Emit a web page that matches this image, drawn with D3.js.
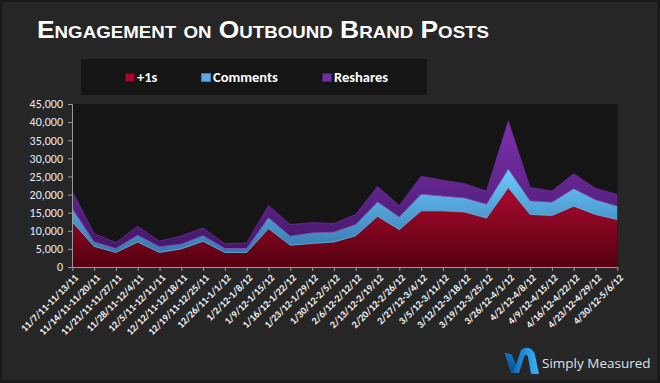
<!DOCTYPE html>
<html><head><meta charset="utf-8">
<script src="https://cdn.jsdelivr.net/npm/d3@7"></script>
<style>html,body{margin:0;padding:0;background:#1a1a1a;}svg{display:block;}</style>
</head><body>
<script>
const categories = ["11/7/11-11/13/11","11/14/11-11/20/11","11/21/11-11/27/11","11/28/11-12/4/11","12/5/11-12/11/11","12/12/11-12/18/11","12/19/11-12/25/11","12/26/11-1/1/12","1/2/12-1/8/12","1/9/12-1/15/12","1/16/12-1/22/12","1/23/12-1/29/12","1/30/12-2/5/12","2/6/12-2/12/12","2/13/12-2/19/12","2/20/12-2/26/12","2/27/12-3/4/12","3/5/12-3/11/12","3/12/12-3/18/12","3/19/12-3/25/12","3/26/12-4/1/12","4/2/12-4/8/12","4/9/12-4/15/12","4/16/12-4/22/12","4/23/12-4/29/12","4/30/12-5/6/12"];
const plusOnes = [12400,5700,4000,6900,4000,5000,7100,4000,4000,10600,6000,6500,6900,8600,14000,10300,15500,15500,15200,13500,21900,14500,14200,16800,14500,13100];
const comments = [3700,1200,1100,1850,1550,1300,1550,1100,1100,3000,2500,2900,2700,3100,3950,3500,4600,4050,3850,3800,5150,3750,3650,4800,4050,3650];
const reshares = [4800,2300,1650,2500,1550,2300,2100,1300,1550,3400,3200,2850,2400,2800,4250,3150,4950,4400,3950,3650,13250,3700,3100,4150,3200,3250];
const seriesNames = ["+1s","Comments","Reshares"];
const yTicks = [0,5000,10000,15000,20000,25000,30000,35000,40000,45000];

const W = 660, H = 383;
const svg = d3.select("body").append("svg").attr("width", W).attr("height", H);
const defs = svg.append("defs");

function grad(id, stops, y1, y2){
  const g = defs.append("linearGradient").attr("id", id).attr("gradientUnits","userSpaceOnUse")
    .attr("x1",0).attr("x2",0).attr("y1",y1).attr("y2",y2);
  stops.forEach(s => g.append("stop").attr("offset", s[0]).attr("stop-color", s[1]));
}

// frame
svg.append("rect").attr("x",0).attr("y",0).attr("width",W).attr("height",H).attr("fill","#1a1a1a");
svg.append("rect").attr("x",2).attr("y",2).attr("width",655).attr("height",378).attr("fill","#262626");

// title
svg.append("text").attr("x",37).attr("y",38)
  .attr("font-family","'Liberation Sans', Arial, sans-serif").attr("font-weight","bold")
  .attr("font-size",24).style("font-variant","small-caps").attr("fill","#ffffff")
  .attr("textLength",452).attr("lengthAdjust","spacingAndGlyphs")
  .text("Engagement on Outbound Brand Posts");

// legend
svg.append("rect").attr("x",81).attr("y",59).attr("width",346).attr("height",36).attr("fill","#151515");
const legCols = ["#a50a2c","#5aaae4","#7030a0"];
const legBorder = ["#6a0018","#3a7ab8","#4a1a70"];
const legX = [125, 201, 322];
seriesNames.forEach((n,i)=>{
  svg.append("rect").attr("x",legX[i]+0.5).attr("y",73.5).attr("width",9).attr("height",8)
    .attr("fill",legCols[i]).attr("stroke",legBorder[i]).attr("stroke-width",1);
  svg.append("text").attr("x",legX[i]+12).attr("y",81.5)
    .attr("font-family","Carlito, Lato, sans-serif").attr("font-weight","bold").attr("font-size",14.5)
    .attr("fill","#ffffff").text(n);
});

// scales
const x = d3.scalePoint().domain(categories).range([72.3, 617.3]);
const y = d3.scaleLinear().domain([0,45000]).range([267,104]);

svg.append("rect").attr("x",72).attr("y",104).attr("width",545.5).attr("height",163).attr("fill","#151515");

const data = categories.map((c,i)=>({cat:c, "+1s":plusOnes[i], "Comments":comments[i], "Reshares":reshares[i]}));
const stack = d3.stack().keys(seriesNames)(data);

const tops = stack.map(s => y(d3.max(s, d=>d[1])));
grad("gRed", [[0,"#ac0a2e"],[1,"#560010"]], tops[0], 267);
grad("gBlue", [[0,"#6ccafc"],[1,"#2c6aa0"]], tops[1], 267);
grad("gPurp", [[0,"#7e32ae"],[1,"#3c1460"]], tops[2], 267);
const fills = ["url(#gRed)","url(#gBlue)","url(#gPurp)"];
const lineCols = ["#70b4ea","#8c5cc8","#6a2a98"];

const area = d3.area().x(d=>x(d.data.cat)).y0(d=>y(d[0])).y1(d=>y(d[1]));
const line = d3.line().x(d=>x(d.data.cat)).y(d=>y(d[1]));
stack.forEach((s,i)=>{
  svg.append("path").datum(s).attr("d",area).attr("fill",fills[i]);
});
stack.forEach((s,i)=>{
  svg.append("path").datum(s).attr("d",line).attr("fill","none").attr("stroke",lineCols[i]).attr("stroke-width",0.8);
});

// axes
const yAxis = d3.axisLeft(y).tickValues(yTicks).tickSize(4).tickPadding(5).tickFormat(d3.format(","));
const gy = svg.append("g").attr("transform","translate(72,0)").call(yAxis);
gy.select(".domain").attr("stroke","#9a9a9a");
gy.selectAll(".tick line").attr("stroke","#9a9a9a");
gy.selectAll(".tick text").attr("fill","#e8eef8").attr("font-family","Carlito, Lato, sans-serif").attr("font-size",12);

const xAxis = d3.axisBottom(x).tickSize(4).tickSizeOuter(0).tickFormat("");
const gx = svg.append("g").attr("transform","translate(0,267)").call(xAxis);
gx.select(".domain").attr("stroke","#9a9a9a");
gx.selectAll(".tick line").attr("stroke","#9a9a9a");

svg.append("g").selectAll("text").data(categories).join("text")
  .attr("transform", d=>`translate(${x(d)+4},${276}) rotate(-45)`)
  .attr("text-anchor","end").attr("dy","0.35em")
  .attr("font-family","Carlito, Lato, sans-serif").attr("font-weight","bold").attr("font-size",10)
  .attr("fill","#f2f2f2").text(d=>d);

// logo
grad("gLogoL", [[0,"#1a78c4"],[1,"#0a4e90"]], 350, 374);
const lg = defs.append("linearGradient").attr("id","gLogoA").attr("x1",0).attr("x2",1).attr("y1",0).attr("y2",0);
lg.append("stop").attr("offset",0).attr("stop-color","#1568b8");
lg.append("stop").attr("offset",0.6).attr("stop-color","#2a9ae6");
lg.append("stop").attr("offset",1).attr("stop-color","#38b0f4");
svg.append("path").attr("d","M504.5,352.5 L512,354.5 L518.5,371.5 L511,373 Z").attr("fill","url(#gLogoL)");
svg.append("path").attr("d","M513,373 L521,350 Q526,346 531,349 Q534,351 535,355 L539,374 L531,374 L528,357 Q526,352 524,357 L519,373 Z").attr("fill","url(#gLogoA)");
svg.append("text").attr("x",542).attr("y",368).attr("font-family","'Open Sans', sans-serif")
  .attr("font-size",13.5).attr("fill","#dce4e4").text("Simply Measured");
</script>
</body></html>
